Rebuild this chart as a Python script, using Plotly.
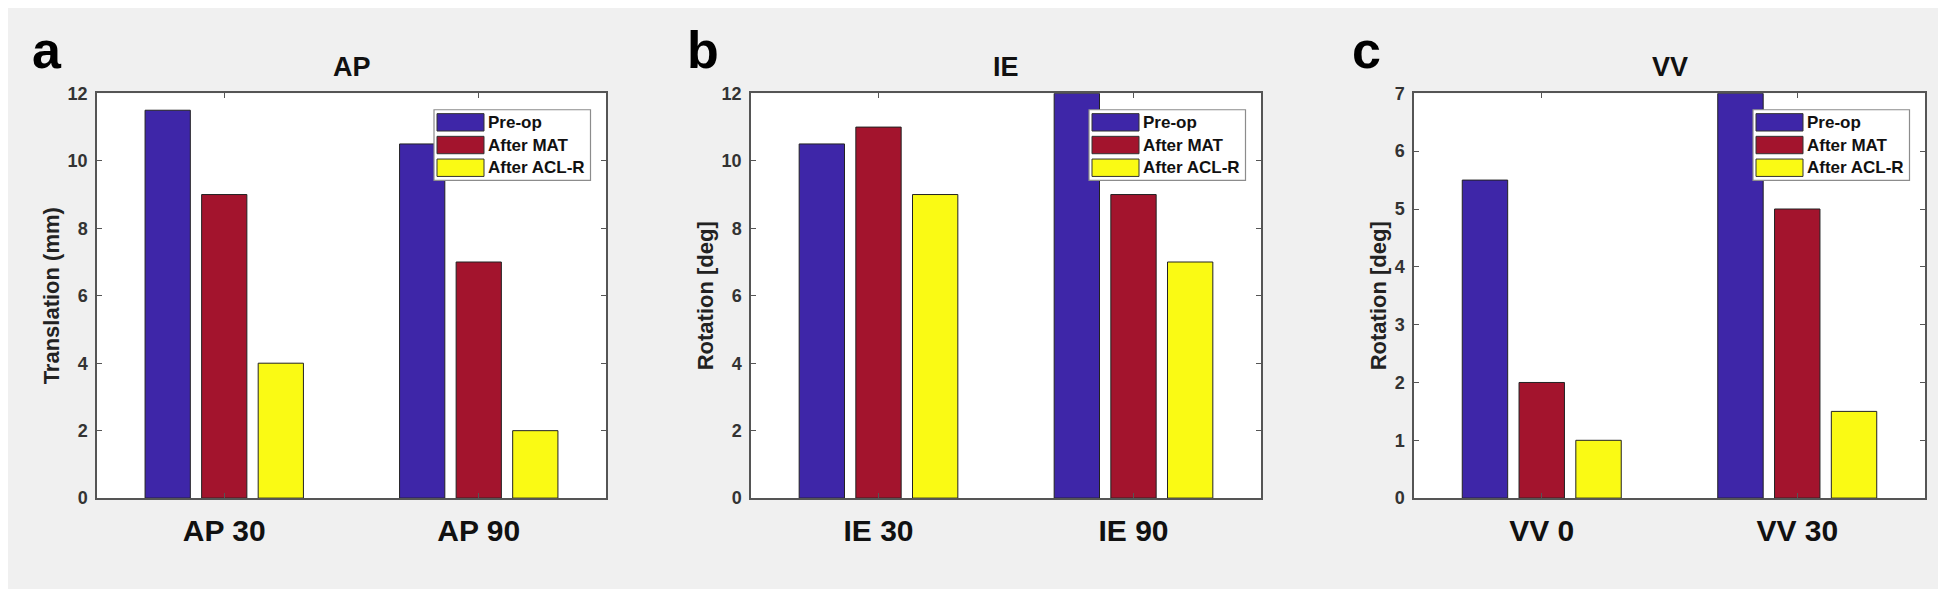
import plotly.graph_objects as go

# ---------------- data ----------------
categories_a = ["AP 30", "AP 90"]
categories_b = ["IE 30", "IE 90"]
categories_c = ["VV 0", "VV 30"]
series_names = ["Pre-op", "After MAT", "After ACL-R"]

ap_preop = [11.5, 10.5]
ap_mat = [9, 7]
ap_aclr = [4, 2]

ie_preop = [10.5, 12]
ie_mat = [11, 9]
ie_aclr = [9, 7]

vv_preop = [5.5, 7]
vv_mat = [2, 5]
vv_aclr = [1, 1.5]

titles = ["AP", "IE", "VV"]
ylabels = ["Translation (mm)", "Rotation [deg]", "Rotation [deg]"]
panel_letters = ["a", "b", "c"]
ymax = [12, 12, 7]
ydtick = [2, 2, 1]

# ---------------- style / layout (pixel coordinates) ----------------
colors = ["#3E26A8", "#A3142D", "#FAFA14"]
W, H = 1946, 589
FONT = "Liberation Sans, Arial, sans-serif"
xpix = [(89, 598), (743, 1253), (1406, 1917)]
ypix = (78, 497)
letter_x = [22, 677, 1342]


def px(v):
    return v / W


def py(v):
    return 1 - v / H


panels = [
    (categories_a, [ap_preop, ap_mat, ap_aclr]),
    (categories_b, [ie_preop, ie_mat, ie_aclr]),
    (categories_c, [vv_preop, vv_mat, vv_aclr]),
]

fig = go.Figure()
shapes = []
annotations = []

for i, (cats, series) in enumerate(panels):
    xa = "x" if i == 0 else f"x{i+1}"
    ya = "y" if i == 0 else f"y{i+1}"
    for name, vals, col in zip(series_names, series, colors):
        fig.add_trace(go.Bar(
            x=cats, y=vals, name=name, xaxis=xa, yaxis=ya,
            marker=dict(color=col, line=dict(color="#222222", width=1)),
            showlegend=False, offsetgroup=name,
        ))
    x0p, x1p = xpix[i]
    dom_x = [px(x0p), px(x1p)]
    dom_y = [py(ypix[1]), py(ypix[0])]
    axkey = "" if i == 0 else str(i + 1)
    fig.layout["xaxis" + axkey] = dict(
        domain=dom_x, anchor=ya, type="category",
        showline=True, linecolor="#555555", linewidth=1.5, mirror="ticks",
        ticks="inside", ticklen=5, tickcolor="#555555",
        tickfont=dict(family=FONT, size=30, color="#111111", weight="bold"),
        showgrid=False, zeroline=False, ticklabelstandoff=5,
    )
    fig.layout["yaxis" + axkey] = dict(
        domain=dom_y, anchor=xa, range=[0, ymax[i]], dtick=ydtick[i],
        showline=True, linecolor="#555555", linewidth=1.5, mirror="ticks",
        ticks="inside", ticklen=5, tickcolor="#555555",
        tickfont=dict(family=FONT, size=18, color="#333333", weight="bold"),
        showgrid=False, zeroline=False, ticklabelstandoff=4,
        title=dict(text=ylabels[i], standoff=2,
                   font=dict(family=FONT, size=22, color="#222222", weight="bold")),
    )
    # subplot title
    annotations.append(dict(
        text="<b>" + titles[i] + "</b>", xref=xa + " domain", yref="paper",
        x=0.5, y=py(68), xanchor="center", yanchor="bottom", showarrow=False,
        font=dict(family=FONT, size=27, color="#111111"),
    ))
    # panel letter
    annotations.append(dict(
        text="<b>" + panel_letters[i] + "</b>", xref="paper", yref="paper",
        x=px(letter_x[i]), y=py(65), xanchor="left", yanchor="bottom",
        showarrow=False, font=dict(family=FONT, size=52, color="#000000"),
    ))
    # custom legend (box, swatches, labels)
    pw = x1p - x0p
    ph = ypix[1] - ypix[0]
    bl, br = 1 - 172 / pw, 1 - 15.5 / pw
    bt, bb = 1 - 17 / ph, 1 - 90 / ph
    shapes.append(dict(type="rect", xref=xa + " domain", yref=ya + " domain",
                       x0=bl, x1=br, y0=bb, y1=bt,
                       fillcolor="white", line=dict(color="#8c8c8c", width=1.2)))
    for k, (name, col) in enumerate(zip(series_names, colors)):
        cy = 30 + k * 23.5
        shapes.append(dict(type="rect", xref=xa + " domain", yref=ya + " domain",
                           x0=bl + 3 / pw, x1=bl + 50 / pw,
                           y0=1 - (cy + 9) / ph, y1=1 - (cy - 9) / ph,
                           fillcolor=col, line=dict(color="#333333", width=1)))
        annotations.append(dict(
            text="<b>" + name + "</b>", xref=xa + " domain", yref=ya + " domain",
            x=bl + 52 / pw, y=1 - cy / ph, xanchor="left", yanchor="middle",
            showarrow=False, font=dict(family=FONT, size=17, color="#111111"),
        ))

fig.update_layout(
    width=W, height=H,
    margin=dict(l=0, r=0, t=0, b=0),
    paper_bgcolor="#f0f0f0", plot_bgcolor="white",
    barmode="group", bargap=1 / 3, bargroupgap=0.2,
    font=dict(family=FONT, color="#222222"),
    shapes=shapes, annotations=annotations,
    showlegend=False,
)

fig.write_html("out.html")
